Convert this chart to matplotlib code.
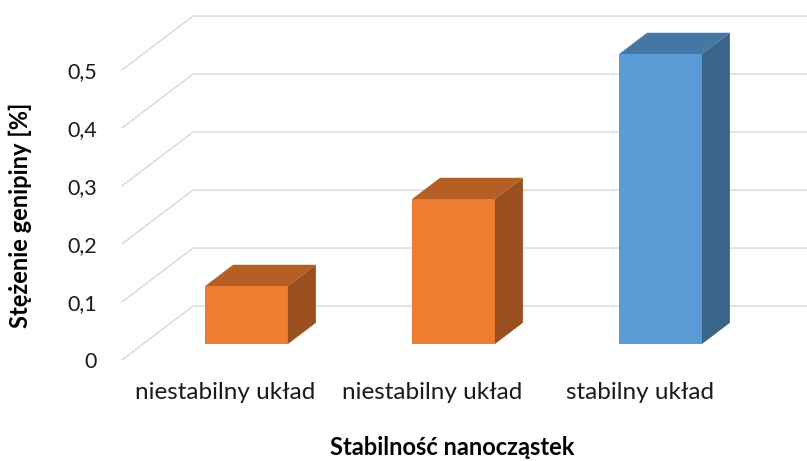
import matplotlib.pyplot as plt
from matplotlib.patches import Polygon

categories = ["niestabilny układ", "niestabilny układ", "stabilny układ"]
values = [0.1, 0.25, 0.5]
yticks = [0, 0.1, 0.2, 0.3, 0.4, 0.5]
ytick_labels = ["0", "0,1", "0,2", "0,3", "0,4", "0,5"]

front_colors = ["#ED7D31", "#ED7D31", "#5B9BD5"]
top_colors = ["#B65F24", "#B65F24", "#4577A5"]
side_colors = ["#9A501E", "#9A501E", "#3A6588"]

plt.rcParams["font.family"] = ["Lato", "DejaVu Sans"]

fig = plt.figure(figsize=(8.07, 4.61), dpi=100)
ax = fig.add_axes([122 / 807, 101 / 461, 621 / 807, 290 / 461])
ax.set_xlim(-0.5, 2.5)
ax.set_ylim(0, 0.5)

# depth of the floor, in data units (3D look of the Excel chart)
ddx = 0.343
ddy = 0.093

# back wall + side wall gridlines
for v in yticks:
    ax.plot([-0.5, -0.5 + ddx, 2.5 + ddx], [v, v + ddy, v + ddy],
            color="#D9D9D9", lw=1.0, clip_on=False, zorder=1)

# bars as 3D boxes
width = 0.4
d0, d1 = 0.296, 0.69
for i, v in enumerate(values):
    x0 = i - width / 2 + d0 * ddx
    x1 = i + width / 2 + d0 * ddx
    y0 = d0 * ddy
    y1 = v + d0 * ddy
    bx = (d1 - d0) * ddx
    by = (d1 - d0) * ddy
    front = Polygon([(x0, y0), (x1, y0), (x1, y1), (x0, y1)], closed=True,
                    facecolor=front_colors[i], edgecolor="none", clip_on=False, zorder=3)
    top = Polygon([(x0, y1), (x1, y1), (x1 + bx, y1 + by), (x0 + bx, y1 + by)], closed=True,
                  facecolor=top_colors[i], edgecolor="none", clip_on=False, zorder=3)
    side = Polygon([(x1, y0), (x1 + bx, y0 + by), (x1 + bx, y1 + by), (x1, y1)], closed=True,
                   facecolor=side_colors[i], edgecolor="none", clip_on=False, zorder=3)
    ax.add_patch(front)
    ax.add_patch(top)
    ax.add_patch(side)

ax.set_xticks(range(len(categories)))
ax.set_xticklabels(categories, fontsize=17.5, color="#1a1a1a")
ax.set_yticks(yticks)
ax.set_yticklabels(ytick_labels, fontsize=15.5, color="#1a1a1a")
ax.tick_params(axis="both", length=0)
ax.tick_params(axis="x", pad=16)
ax.tick_params(axis="y", pad=18)
for s in ax.spines.values():
    s.set_visible(False)
ax.patch.set_alpha(0)

ax.set_xlabel("Stabilność nanocząstek", fontsize=17, fontweight="bold", color="#000000")
ax.xaxis.set_label_coords((452 - 122) / 621, (360 - 447) / 290)
ax.xaxis.label.set_va("center")
ax.set_ylabel("Stężenie genipiny [%]", fontsize=17, fontweight="bold", color="#000000")
ax.yaxis.set_label_coords((20 - 122) / 621, (360 - 215) / 290)
ax.yaxis.label.set_va("center")

fig.savefig("out.png", dpi=100)
